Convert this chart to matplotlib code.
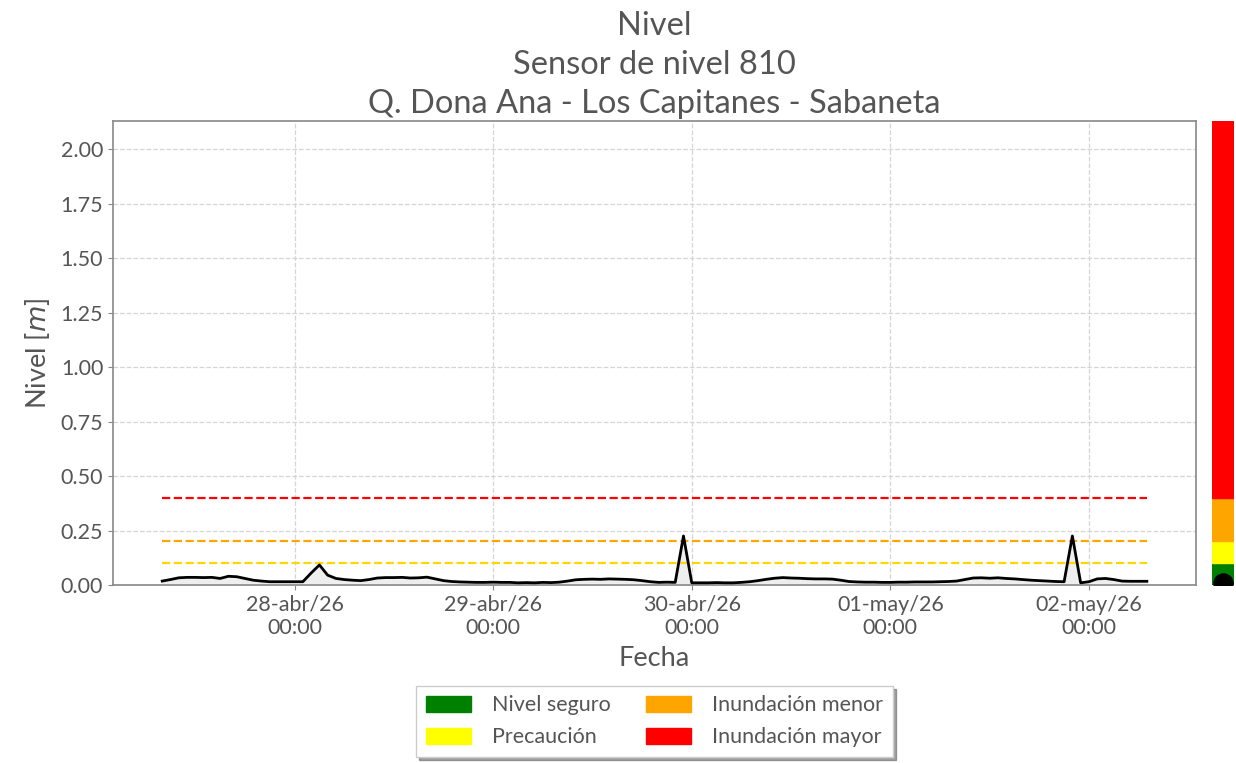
import matplotlib
matplotlib.use('Agg')
import matplotlib.pyplot as plt
import matplotlib.dates as mdates
from matplotlib.patches import Patch
import pandas as pd
import numpy as np

# ======================
# DATA
# ======================
start = '2026-04-27 08:00'
nivel = [0.018, 0.025, 0.033, 0.035, 0.035, 0.034, 0.035, 0.030, 0.040, 0.038,
         0.030, 0.022, 0.018, 0.015, 0.015, 0.015, 0.015, 0.015, 0.055, 0.092,
         0.045, 0.030, 0.025, 0.022, 0.020, 0.025, 0.032, 0.034, 0.034, 0.035,
         0.032, 0.033, 0.036, 0.028, 0.020, 0.016, 0.014, 0.013, 0.012, 0.012,
         0.013, 0.012, 0.012, 0.010, 0.011, 0.010, 0.012, 0.011, 0.013, 0.018,
         0.024, 0.026, 0.027, 0.026, 0.028, 0.027, 0.026, 0.024, 0.020, 0.015,
         0.012, 0.013, 0.012, 0.225, 0.010, 0.010, 0.010, 0.011, 0.010, 0.010,
         0.012, 0.015, 0.020, 0.026, 0.031, 0.034, 0.032, 0.031, 0.029, 0.028,
         0.028, 0.027, 0.022, 0.016, 0.014, 0.013, 0.013, 0.012, 0.012, 0.013,
         0.013, 0.014, 0.014, 0.014, 0.015, 0.016, 0.018, 0.025, 0.032, 0.033,
         0.031, 0.033, 0.030, 0.028, 0.025, 0.022, 0.020, 0.018, 0.016, 0.015,
         0.225, 0.010, 0.015, 0.028, 0.030, 0.025, 0.018, 0.017, 0.017, 0.017]
fechas = pd.date_range(start, periods=len(nivel), freq='h')

umbrales = [0.10, 0.20, 0.40]
umbral_colores = ['gold', 'orange', 'red']

niveles_label = ['Nivel seguro', 'Precaución', 'Inundación menor', 'Inundación mayor']
niveles_color = ['green', 'yellow', 'orange', 'red']
niveles_lim = [0.0, 0.10, 0.20, 0.40, 2.13]

meses = {1: 'ene', 2: 'feb', 3: 'mar', 4: 'abr', 5: 'may', 6: 'jun',
         7: 'jul', 8: 'ago', 9: 'sep', 10: 'oct', 11: 'nov', 12: 'dic'}

# ======================
# STYLE
# ======================
gris = '#555555'
plt.rcParams['font.family'] = ['Lato', 'DejaVu Sans']
plt.rcParams['text.color'] = gris
plt.rcParams['axes.labelcolor'] = gris
plt.rcParams['xtick.color'] = gris
plt.rcParams['ytick.color'] = gris

fig = plt.figure(figsize=(12.36, 7.63), dpi=100)
ax = fig.add_axes([0.0914, 0.2333, 0.8763, 0.6081])
axb = fig.add_axes([0.9806, 0.2333, 0.0178, 0.6081])


def fmt_fecha(v, p):
    d = mdates.num2date(v)
    return '%02d-%s/%s\n%s' % (d.day, meses[d.month], d.strftime('%y'), d.strftime('%H:%M'))


# ======================
# PLOT
# ======================
ax.fill_between(fechas, 0, nivel, color='#eeeeee', zorder=2)
ax.plot(fechas, nivel, color='k', lw=2, zorder=3)
for u, c in zip(umbrales, umbral_colores):
    ax.hlines(u, fechas[0], fechas[-1], colors=c, linestyles='--', lw=1.6, zorder=2)

ax.set_ylim(0, niveles_lim[-1])
ax.set_yticks(np.arange(0, 2.01, 0.25))
ax.yaxis.set_major_formatter(matplotlib.ticker.FormatStrFormatter('%.2f'))
ax.xaxis.set_major_locator(mdates.DayLocator())
ax.xaxis.set_major_formatter(matplotlib.ticker.FuncFormatter(fmt_fecha))
ax.tick_params(labelsize=15.5, color='#888888')
ax.grid(ls='--', color='#d5d5d5', lw=0.9, zorder=0)
for s in ax.spines.values():
    s.set_color('#888888')
    s.set_linewidth(1.2)

ax.set_xlabel('Fecha', fontsize=19.5, labelpad=6)
ax.set_ylabel('Nivel [$m$]', fontsize=19.5, labelpad=6)
ax.set_title('Nivel\nSensor de nivel 810\nQ. Dona Ana - Los Capitanes - Sabaneta',
             fontsize=23.5, pad=6, color=gris, linespacing=1.36)

ax.legend(handles=[Patch(color=c, label=l) for c, l in zip(niveles_color, niveles_label)],
          loc='upper center', bbox_to_anchor=(0.5, -0.194), ncol=2, fontsize=15.5,
          fancybox=False, shadow=True, handlelength=2.1, handleheight=0.75,
          labelspacing=0.55, handletextpad=1.0, columnspacing=1.6,
          borderpad=0.45, edgecolor='#cccccc', framealpha=1)

# barra de alerta
for i, c in enumerate(niveles_color):
    axb.axhspan(niveles_lim[i], niveles_lim[i + 1], color=c)
axb.scatter([0.5], [nivel[-1] - 0.01], s=190, color='k', zorder=3)
axb.set_xlim(0, 1)
axb.set_ylim(0, niveles_lim[-1])
axb.axis('off')

plt.savefig('out.png', dpi=100)
